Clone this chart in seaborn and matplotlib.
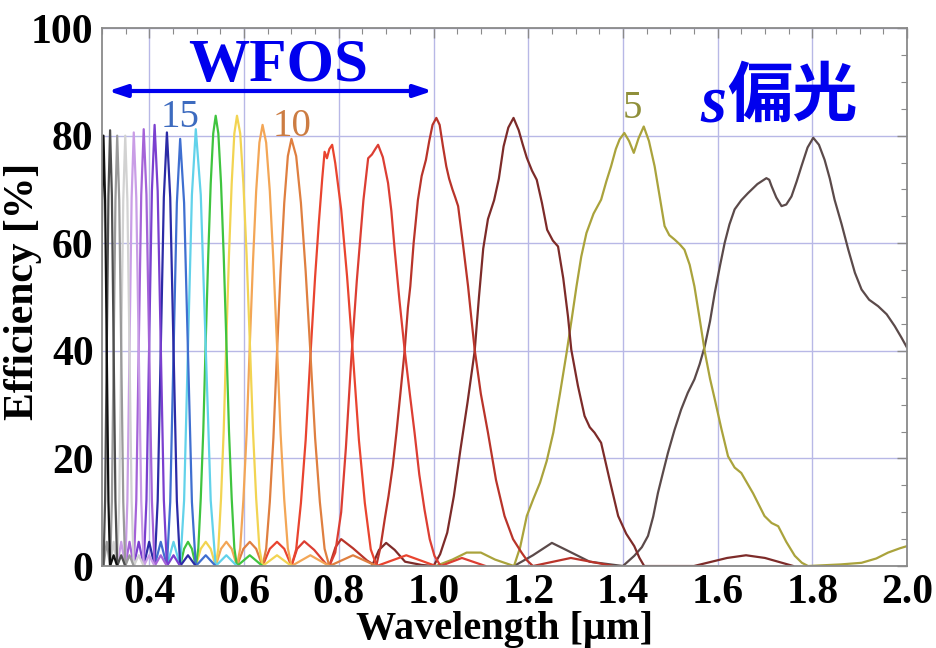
import numpy as np
import pandas as pd
import matplotlib
matplotlib.use("Agg")
import matplotlib.pyplot as plt
import seaborn as sns
from matplotlib.ticker import MultipleLocator

# Diffraction efficiency of each grating order (wavelength in um, efficiency in %)
wl_4 = [1.170, 1.210, 1.250, 1.280, 1.330, 1.400, 1.424, 1.440, 1.453, 1.464, 1.474, 1.485, 1.495,
        1.509, 1.523, 1.537, 1.551, 1.562, 1.573, 1.584, 1.594, 1.605, 1.615, 1.625, 1.636, 1.650,
        1.664, 1.684, 1.703, 1.709, 1.714, 1.724, 1.735, 1.745, 1.756, 1.767, 1.777, 1.790, 1.802,
        1.814, 1.826, 1.837, 1.847, 1.862, 1.876, 1.890, 1.904, 1.920, 1.939, 1.957, 1.974, 1.988,
        2.000]
ef_4 = [0, 2.0, 4.3, 3.0, 0.8, 0, 1.9, 3.5, 5.6, 9.2, 13.6, 17.5, 21.0, 25.3, 29.1, 32.2, 34.7,
        37.5, 40.9, 45.5, 50.8, 55.8, 60.1, 63.5, 66.3, 68.0, 69.3, 71.0, 72.1, 71.8, 70.6, 68.5,
        66.9, 67.2, 68.7, 71.5, 74.3, 77.8, 79.6, 78.3, 75.5, 72.0, 68.1, 63.5, 58.8, 54.5, 51.4,
        49.5, 48.3, 46.8, 44.6, 42.5, 40.6]

wl_5 = [1.005, 1.040, 1.070, 1.100, 1.130, 1.170, 1.183, 1.197, 1.211, 1.225, 1.239, 1.253, 1.267,
        1.281, 1.292, 1.302, 1.312, 1.323, 1.338, 1.354, 1.365, 1.375, 1.385, 1.393, 1.403, 1.413,
        1.423, 1.433, 1.444, 1.455, 1.467, 1.478, 1.488, 1.498, 1.509, 1.520, 1.530, 1.541, 1.551,
        1.562, 1.573, 1.584, 1.594, 1.608, 1.622, 1.636, 1.650, 1.675, 1.699, 1.714, 1.728, 1.745,
        1.763, 1.778, 1.791, 1.860, 1.904, 1.935, 1.960, 1.985, 2.000]
ef_5 = [0, 1.2, 2.5, 2.5, 1.2, 0, 3.5, 9.3, 12.5, 15.5, 19.5, 24.8, 32.0, 39.6, 46.0, 52.0, 57.5,
        61.9, 65.5, 68.1, 71.5, 74.3, 77.5, 79.3, 80.5, 79.0, 76.8, 79.5, 81.7, 79.0, 74.3, 68.5,
        63.2, 61.5, 60.7, 59.8, 58.8, 56.0, 52.0, 46.0, 39.8, 34.8, 31.0, 25.5, 20.4, 18.3, 17.3,
        13.5, 9.3, 8.0, 7.4, 4.5, 1.9, 0.6, 0, 0.3, 0.6, 1.4, 2.5, 3.3, 3.7]

wl_6 = [0.870, 0.885, 0.900, 0.918, 0.940, 0.975, 1.000, 1.014, 1.029, 1.043, 1.057, 1.072, 1.087,
        1.096, 1.105, 1.115, 1.128, 1.138, 1.148, 1.158, 1.169, 1.180, 1.188, 1.197, 1.208, 1.218,
        1.229, 1.240, 1.252, 1.263, 1.274, 1.284, 1.291, 1.305, 1.319, 1.330, 1.340, 1.354, 1.372,
        1.390, 1.407, 1.424, 1.435, 1.445, 1.550, 1.620, 1.660, 1.700, 1.760]
ef_6 = [0, 3.0, 4.3, 3.0, 0.8, 0.2, 0, 2.2, 6.2, 13.0, 21.7, 30.5, 40.0, 50.0, 59.0, 64.5, 68.0,
        72.0, 78.0, 81.5, 83.3, 81.0, 78.5, 75.9, 73.5, 71.8, 67.5, 62.5, 60.5, 59.4, 53.5, 46.4,
        40.2, 33.5, 27.9, 25.8, 24.8, 22.9, 16.0, 9.3, 6.0, 3.7, 1.5, 0, 0, 1.5, 2.0, 1.5, 0]

wl_7 = [0.780, 0.793, 0.805, 0.830, 0.860, 0.879, 0.888, 0.897, 0.905, 0.914, 0.922, 0.930, 0.939,
        0.946, 0.951, 0.958, 0.967, 0.975, 0.984, 0.991, 0.998, 1.006, 1.013, 1.020, 1.027, 1.033,
        1.040, 1.046, 1.052, 1.062, 1.073, 1.080, 1.087, 1.100, 1.115, 1.132, 1.150, 1.168, 1.186,
        1.198, 1.210, 1.290, 1.380]
ef_7 = [0, 3.5, 5.0, 3.3, 1.0, 0, 3.5, 8.7, 13.0, 18.6, 25.0, 32.0, 40.0, 48.0, 52.0, 60.0, 68.0,
        72.5, 75.5, 79.0, 82.0, 83.3, 82.0, 78.0, 74.3, 72.0, 70.0, 68.5, 66.9, 60.0, 52.0, 46.0,
        40.2, 32.0, 24.8, 16.0, 9.3, 5.0, 2.5, 1.0, 0, 1.5, 0]

wl_8 = [0.700, 0.712, 0.727, 0.748, 0.772, 0.780, 0.7925, 0.805, 0.815, 0.826, 0.838, 0.852, 0.862,
        0.870, 0.877, 0.883, 0.893, 0.904, 0.911, 0.918, 0.928, 0.939, 0.950, 0.960, 0.970, 0.981,
        0.992, 1.002, 1.015, 1.060, 1.110]
ef_8 = [0, 3.2, 4.6, 3.0, 0.5, 0, 2.5, 10.0, 22.0, 38.0, 53.0, 68.0, 75.8, 76.5, 77.5, 78.3, 76.0,
        71.2, 66.0, 58.8, 49.5, 40.2, 32.0, 24.8, 17.0, 10.5, 5.0, 1.9, 0, 1.5, 0]

wl_9 = [0.639, 0.6543, 0.6695, 0.6848, 0.700, 0.710, 0.720, 0.730, 0.740, 0.750, 0.758, 0.765, 0.770,
        0.775, 0.780, 0.786, 0.7925, 0.805, 0.8175, 0.830, 0.8425, 0.855, 0.8675, 0.880, 0.9425, 1.005]
ef_9 = [0, 3.2, 4.5, 3.2, 0, 3.1, 11.7, 23.4, 39.0, 53.8, 64.0, 72.0, 77.0, 75.8, 77.5, 78.3, 74.9,
        66.3, 53.8, 39.0, 23.4, 11.7, 3.1, 0, 2.0, 0]

wl_10 = [0.585, 0.5985, 0.612, 0.6255, 0.639, 0.6466, 0.6543, 0.6619, 0.6695, 0.6771, 0.6848, 0.6924,
         0.700, 0.710, 0.720, 0.730, 0.740, 0.750, 0.760, 0.770, 0.780, 0.830, 0.880]
ef_10 = [0, 3.2, 4.5, 3.2, 0, 3.2, 11.9, 23.8, 39.7, 54.8, 67.5, 76.2, 79.4, 76.2, 67.5, 54.8, 39.7,
         23.8, 11.9, 3.2, 0, 2.0, 0]

wl_11 = [0.540, 0.5513, 0.5625, 0.5738, 0.585, 0.5918, 0.5985, 0.6053, 0.612, 0.6188, 0.6255, 0.6323,
         0.639, 0.6466, 0.6543, 0.6619, 0.6695, 0.6771, 0.6848, 0.6924, 0.700, 0.740, 0.780]
ef_11 = [0, 3.2, 4.5, 3.2, 0, 3.3, 12.3, 24.6, 41.0, 56.6, 69.7, 78.7, 82.0, 78.7, 69.7, 56.6, 41.0,
         24.6, 12.3, 3.3, 0, 2.0, 0]

wl_12 = [0.498, 0.5085, 0.519, 0.5295, 0.540, 0.5456, 0.5513, 0.5569, 0.5625, 0.5681, 0.5738, 0.5794,
         0.585, 0.5918, 0.5985, 0.6053, 0.612, 0.6188, 0.6255, 0.6323, 0.639, 0.6695, 0.700]
ef_12 = [0, 3.2, 4.5, 3.2, 0, 3.3, 12.6, 25.1, 41.9, 57.8, 71.1, 80.4, 83.7, 80.4, 71.1, 57.8, 41.9,
         25.1, 12.6, 3.3, 0, 2.0, 0]

wl_13 = [0.465, 0.4733, 0.4815, 0.4898, 0.498, 0.5033, 0.5085, 0.5138, 0.519, 0.5243, 0.5295, 0.5348,
         0.540, 0.5456, 0.5513, 0.5569, 0.5625, 0.5681, 0.5738, 0.5794, 0.585, 0.612, 0.639]
ef_13 = [0, 3.2, 4.5, 3.2, 0, 3.3, 12.6, 25.1, 41.9, 57.8, 71.1, 80.4, 83.7, 80.4, 71.1, 57.8, 41.9,
         25.1, 12.6, 3.3, 0, 2.0, 0]

wl_14 = [0.437, 0.451, 0.465, 0.4733, 0.4815, 0.4898, 0.498, 0.5085, 0.519, 0.5295, 0.540, 0.5625, 0.585]
ef_14 = [0, 4.5, 0, 12.2, 40.6, 69.0, 81.2, 69.0, 40.6, 12.2, 0, 2.0, 0]

wl_15 = [0.411, 0.424, 0.437, 0.444, 0.451, 0.458, 0.465, 0.4733, 0.4815, 0.4898, 0.498, 0.519, 0.540]
ef_15 = [0, 4.5, 0, 11.9, 39.7, 67.5, 79.4, 67.5, 39.7, 11.9, 0, 2.0, 0]

wl_16 = [0.388, 0.3995, 0.411, 0.4175, 0.424, 0.4305, 0.437, 0.444, 0.451, 0.458, 0.465, 0.4815, 0.498]
ef_16 = [0, 4.5, 0, 12.1, 40.3, 68.5, 80.6, 68.5, 40.3, 12.1, 0, 2.0, 0]

wl_17 = [0.367, 0.3775, 0.388, 0.3938, 0.3995, 0.4053, 0.411, 0.4175, 0.424, 0.4305, 0.437, 0.451, 0.465]
ef_17 = [0, 4.5, 0, 12.3, 41.0, 69.7, 82.0, 69.7, 41.0, 12.3, 0, 2.0, 0]

wl_18 = [0.349, 0.358, 0.367, 0.3723, 0.3775, 0.3828, 0.388, 0.3938, 0.3995, 0.4053, 0.411, 0.424, 0.437]
ef_18 = [0, 4.5, 0, 12.2, 40.6, 69.0, 81.2, 69.0, 40.6, 12.2, 0, 2.0, 0]

wl_19 = [0.332, 0.3405, 0.349, 0.3535, 0.358, 0.3625, 0.367, 0.3723, 0.3775, 0.3828, 0.388, 0.3995, 0.411]
ef_19 = [0, 4.5, 0, 12.1, 40.3, 68.5, 80.6, 68.5, 40.3, 12.1, 0, 2.0, 0]

wl_20 = [0.317, 0.3245, 0.332, 0.3363, 0.3405, 0.3448, 0.349, 0.3535, 0.358, 0.3625, 0.367, 0.3775, 0.388]
ef_20 = [0, 4.5, 0, 12.0, 40.0, 68.0, 80.0, 68.0, 40.0, 12.0, 0, 2.0, 0]

wl_21 = [0.303, 0.310, 0.317, 0.3208, 0.3245, 0.3283, 0.332, 0.3363, 0.3405, 0.3448, 0.349, 0.358, 0.367]
ef_21 = [0, 4.5, 0, 12.0, 40.0, 68.0, 80.0, 68.0, 40.0, 12.0, 0, 2.0, 0]

wl_22 = [0.292, 0.2975, 0.303, 0.3065, 0.310, 0.3135, 0.317, 0.3208, 0.3245, 0.3283, 0.332, 0.3405, 0.349]
ef_22 = [0, 4.5, 0, 12.2, 40.5, 68.9, 81.0, 68.9, 40.5, 12.2, 0, 2.0, 0]

wl_23 = [0.292, 0.2948, 0.2975, 0.3003, 0.303, 0.3065, 0.310, 0.3135, 0.317, 0.3245, 0.332]
ef_23 = [0, 12.0, 40.0, 68.0, 80.0, 68.0, 40.0, 12.0, 0, 2.0, 0]

orders = [4, 5, 6, 7, 8, 9, 10, 11, 12, 13, 14, 15, 16, 17, 18, 19, 20, 21, 22, 23]
order_colors = ["#5b4a4a", "#aaa33c", "#7d2b29", "#b9342a", "#dc3e33", "#e9442f", "#df7f40",
                "#f3a656", "#f2d452", "#3fc43f", "#62d2ea", "#3f6fd0", "#2b2ba6", "#7a3fcf",
                "#a463d8", "#c99de6", "#d2d2d2", "#9a9a9a", "#4f4f4f", "#111111"]

wavelengths = [wl_4, wl_5, wl_6, wl_7, wl_8, wl_9, wl_10, wl_11, wl_12, wl_13, wl_14, wl_15,
               wl_16, wl_17, wl_18, wl_19, wl_20, wl_21, wl_22, wl_23]
efficiencies = [ef_4, ef_5, ef_6, ef_7, ef_8, ef_9, ef_10, ef_11, ef_12, ef_13, ef_14, ef_15,
                ef_16, ef_17, ef_18, ef_19, ef_20, ef_21, ef_22, ef_23]

# Order labels written above the curves
label_text = ["15", "10", "5"]
label_wl = [0.465, 0.702, 1.420]
label_eff = [81.6, 80.0, 83.2]
label_colors = ["#3d6bbf", "#cc7c42", "#8f8f3a"]

frames = []
for n, wl, ef in zip(orders, wavelengths, efficiencies):
    frames.append(pd.DataFrame({"wavelength": wl, "efficiency": ef, "order": str(n)}))
df = pd.concat(frames, ignore_index=True)

sns.set_theme(style="white")
plt.rcParams["font.family"] = ["Liberation Serif", "Noto Sans CJK JP"]
plt.rcParams["text.color"] = "black"
plt.rcParams["xtick.color"] = "black"
plt.rcParams["ytick.color"] = "black"
plt.rcParams["axes.labelcolor"] = "black"

fig = plt.figure(figsize=(9.37, 6.48), dpi=100)
ax = fig.add_axes([0.1089, 0.1265, 0.8591, 0.8302])

sns.lineplot(data=df, x="wavelength", y="efficiency", hue="order",
             hue_order=[str(n) for n in orders],
             palette=dict(zip([str(n) for n in orders], order_colors)),
             estimator=None, sort=False, linewidth=1.6, legend=False, ax=ax)
for line in ax.get_lines():
    line.set_solid_joinstyle("round")

ax.set_xlim(0.3, 2.0)
ax.set_ylim(0, 100)
ax.set_xticks(np.arange(0.4, 2.01, 0.2))
ax.set_xticklabels([f"{v:.1f}" for v in np.arange(0.4, 2.01, 0.2)])
ax.set_yticks(np.arange(0, 101, 20))
ax.xaxis.set_minor_locator(MultipleLocator(0.05))
ax.yaxis.set_minor_locator(MultipleLocator(5))
ax.grid(True, which="major", color="#b8b8e6", linewidth=1.0)
ax.set_axisbelow(True)

for side in ax.spines.values():
    side.set_color("#8a8a8a")
    side.set_linewidth(1.3)

ax.tick_params(which="both", direction="in", top=True, right=True, color="#8a8a8a",
               labelcolor="black")
ax.tick_params(which="major", length=7, width=1.0, labelsize=30, pad=6)
ax.tick_params(which="minor", length=4, width=0.8)
for lab in ax.get_xticklabels() + ax.get_yticklabels():
    lab.set_fontweight("bold")
    lab.set_family("Liberation Serif")

ax.set_xlabel("Wavelength [µm]", fontsize=29, fontweight="bold", family="Liberation Serif",
              color="black")
ax.set_ylabel("Efficiency [%]", fontsize=30, fontweight="bold", family="Liberation Serif",
              color="black")
ax.xaxis.set_label_coords(0.5, -0.083)
ax.yaxis.set_label_coords(-0.074, 0.51)

for t, x, y, c in zip(label_text, label_wl, label_eff, label_colors):
    ax.text(x, y, t, color=c, fontsize=28, family="Liberation Serif", ha="center", va="baseline")

# WFOS coverage
ax.text(0.672, 90.2, "WFOS", color="#0000ee", fontsize=44, fontweight="bold",
        family="Liberation Serif", ha="center", va="baseline")
ax.annotate("", xy=(0.313, 88.3), xytext=(0.998, 88.3),
            arrowprops=dict(arrowstyle="<|-|>,head_length=0.9,head_width=0.3",
                            color="#0000ee", lw=3, shrinkA=0, shrinkB=0))

# polarisation tag
ax.text(1.564, 82.6, "s", color="#0000ee", fontsize=48, fontweight="bold", style="italic",
        family="Liberation Serif", ha="left", va="baseline")
ax.text(1.621, 83.6, "偏光", color="#0000ee", fontsize=47, fontweight="bold",
        family="Noto Sans CJK JP", ha="left", va="baseline")

fig.savefig("out.png", dpi=100)
